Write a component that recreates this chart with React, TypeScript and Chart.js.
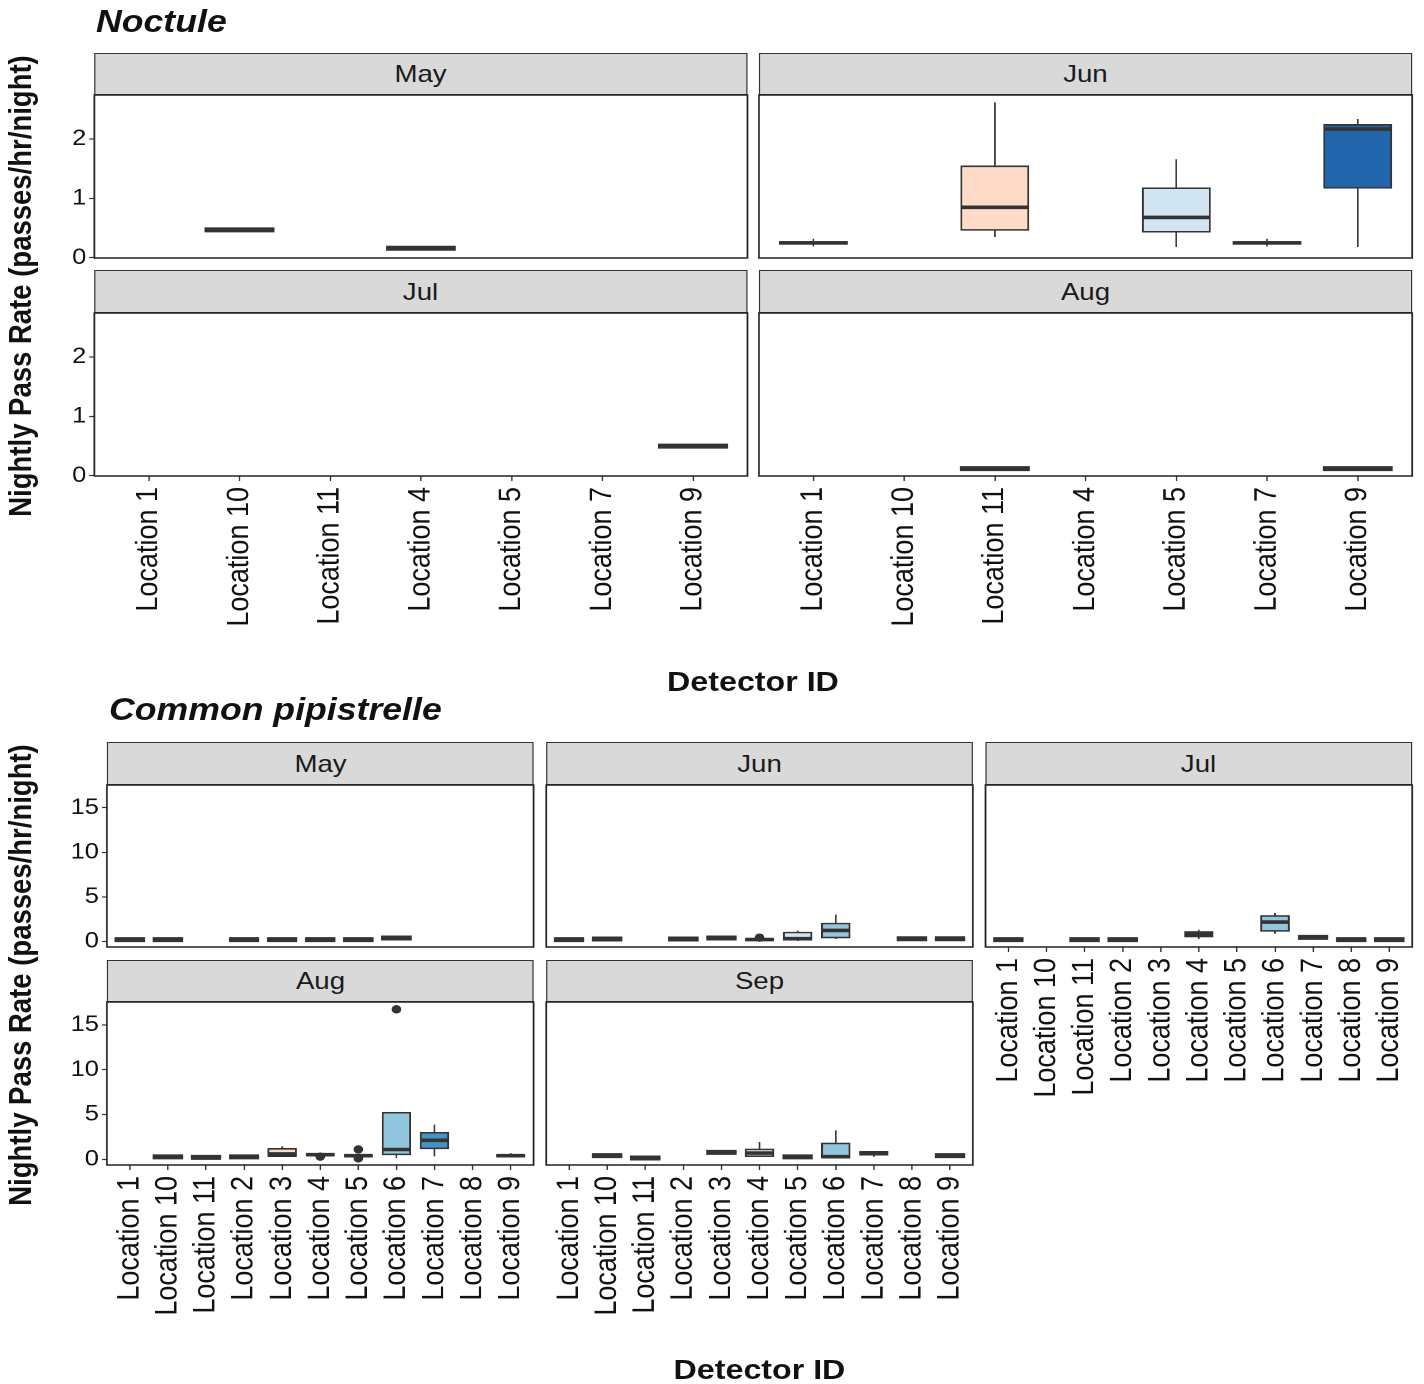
import { useEffect, useRef } from 'react';
import { Chart, registerables } from 'chart.js';

Chart.register(...registerables);

// [min, q1, median, q3, max]; null where a detector logged no nights that month
type Stats = [number, number, number, number, number];
type Box = Stats | null;

const FONT = "'Liberation Sans', Arial, Helvetica, sans-serif";
const INK = '#333333';
const TEXT = '#111111';

// ---------- Noctule ----------
const NOCTULE_SITES = ['Location 1', 'Location 10', 'Location 11', 'Location 4', 'Location 5', 'Location 7', 'Location 9'];
const NOCTULE_FILLS = ['#b2182b', '#ef8a62', '#fddbc7', '#f7f7f7', '#d1e5f0', '#67a9cf', '#2166ac'];
const NOCTULE_Y_TICKS = [0, 1, 2];
const NOCTULE_Y_RANGE = [-0.005, 2.745];

const noctuleMay: Box[] = [null, [0.47, 0.47, 0.47, 0.47, 0.47], null, [0.16, 0.16, 0.16, 0.16, 0.16], null, null, null];
const noctuleJun: Box[] = [
  [0.19, 0.225, 0.25, 0.275, 0.32],
  null,
  [0.35, 0.46, 0.85, 1.55, 2.62],
  null,
  [0.18, 0.43, 0.68, 1.18, 1.66],
  [0.19, 0.225, 0.25, 0.275, 0.32],
  [0.18, 1.17, 2.17, 2.25, 2.34],
];
const noctuleJul: Box[] = [null, null, null, null, null, null, [0.5, 0.5, 0.5, 0.5, 0.5]];
const noctuleAug: Box[] = [null, null, [0.12, 0.12, 0.12, 0.12, 0.12], null, null, null, [0.12, 0.12, 0.12, 0.12, 0.12]];

// ---------- Common pipistrelle ----------
const PIP_SITES = ['Location 1', 'Location 10', 'Location 11', 'Location 2', 'Location 3', 'Location 4', 'Location 5', 'Location 6', 'Location 7', 'Location 8', 'Location 9'];
const PIP_FILLS = ['#67001f', '#b2182b', '#d6604d', '#f4a582', '#fddbc7', '#f7f7f7', '#d1e5f0', '#92c5de', '#4393c3', '#2166ac', '#053061'];
const PIP_Y_TICKS = [0, 5, 10, 15];
const PIP_Y_RANGE = [-0.63, 17.55];

const pipMay: Box[] = [
  [0.2, 0.2, 0.2, 0.2, 0.2],
  [0.2, 0.2, 0.2, 0.2, 0.2],
  null,
  [0.2, 0.2, 0.2, 0.2, 0.2],
  [0.2, 0.2, 0.2, 0.2, 0.2],
  [0.2, 0.2, 0.2, 0.2, 0.2],
  [0.2, 0.2, 0.2, 0.2, 0.2],
  [0.38, 0.38, 0.38, 0.38, 0.38],
  null,
  null,
  null,
];
const pipJun: Box[] = [
  [0.2, 0.2, 0.2, 0.2, 0.2],
  [0.27, 0.27, 0.27, 0.27, 0.27],
  null,
  [0.27, 0.27, 0.27, 0.27, 0.27],
  [0.38, 0.38, 0.38, 0.38, 0.38],
  [0.15, 0.18, 0.2, 0.22, 0.27],
  [0.05, 0.12, 0.3, 1.05, 1.2],
  [0.27, 0.38, 1.23, 2.06, 3.0],
  null,
  [0.3, 0.3, 0.3, 0.3, 0.3],
  [0.3, 0.3, 0.3, 0.3, 0.3],
];
const pipJunOutliers: number[][] = [[], [], [], [], [], [0.42], [], [], [], [], []];
const pipJul: Box[] = [
  [0.2, 0.2, 0.2, 0.2, 0.2],
  null,
  [0.2, 0.2, 0.2, 0.2, 0.2],
  [0.2, 0.2, 0.2, 0.2, 0.2],
  null,
  [0.27, 0.49, 0.8, 1.12, 1.31],
  null,
  [0.86, 1.12, 2.17, 2.91, 3.18],
  [0.45, 0.45, 0.45, 0.45, 0.45],
  [0.2, 0.2, 0.2, 0.2, 0.2],
  [0.2, 0.2, 0.2, 0.2, 0.2],
];
const pipAug: Box[] = [
  null,
  [0.27, 0.27, 0.27, 0.27, 0.27],
  [0.22, 0.22, 0.22, 0.22, 0.22],
  [0.27, 0.27, 0.27, 0.27, 0.27],
  [0.27, 0.3, 0.6, 1.23, 1.45],
  [0.45, 0.48, 0.52, 0.56, 0.6],
  [0.3, 0.35, 0.41, 0.45, 0.5],
  [0.15, 0.5, 1.1, 5.25, 5.25],
  [0.33, 1.16, 2.12, 3.02, 3.88],
  null,
  [0.3, 0.35, 0.41, 0.48, 0.7],
];
const pipAugOutliers: number[][] = [[], [], [], [], [], [0.3], [1.1, 0.1], [16.73], [], [], []];
const pipSep: Box[] = [
  null,
  [0.41, 0.41, 0.41, 0.41, 0.41],
  [0.15, 0.15, 0.15, 0.15, 0.15],
  null,
  [0.78, 0.78, 0.78, 0.78, 0.78],
  [0.27, 0.3, 0.7, 1.16, 1.94],
  [0.27, 0.27, 0.27, 0.27, 0.27],
  [0.15, 0.15, 0.3, 1.83, 3.24],
  [0.27, 0.45, 0.65, 0.89, 0.89],
  null,
  [0.41, 0.41, 0.41, 0.41, 0.41],
];

// ---------- layout ----------
// the figure is drawn narrow and widened horizontally by S
const S = 1.15;
const ux = (x: number) => (x - 8) / S;
const uy = (y: number) => y - 8;

type PanelSpec = {
  label: string;
  sites: string[];
  fills: string[];
  boxes: Box[];
  outliers?: number[][];
  yRange: number[];
  yTicks: number[];
  x0: number;
  x1: number;
  stripTop: number;
  plotTop: number;
  plotBottom: number;
  showX: boolean;
  showY: boolean;
};

function FacetPanel(p: PanelSpec) {
  const ref = useRef<HTMLCanvasElement>(null);
  const plotW = (p.x1 - p.x0) / S;
  const plotH = p.plotBottom - p.plotTop;
  const axisL = p.showY ? 40 : 0;
  const axisB = p.showX ? 170 : 0;
  const pad = 2;
  const padB = p.showX ? 0 : 14;
  const cw = pad + axisL + plotW + pad;
  const ch = pad + plotH + axisB + padB;
  const left = ux(p.x0) - axisL - pad;
  const top = uy(p.plotTop) - pad;
  const n = p.sites.length;
  const unit = plotW / (n + 0.2);

  useEffect(() => {
    const canvas = ref.current;
    if (!canvas) return;
    const idx = p.boxes.map((b, i) => (b ? i : -1)).filter((i) => i >= 0);
    const points = idx.map((i) => ({ x: i, y: [p.boxes[i]![1], p.boxes[i]![3]] }));
    const colors = idx.map((i) => p.fills[i]);

    const whiskers = {
      id: 'whiskers',
      afterDatasetsDraw(chart: any) {
        const { ctx } = chart;
        const xs = chart.scales.x;
        const ys = chart.scales.y;
        const half = (xs.getPixelForValue(1) - xs.getPixelForValue(0)) * 0.375;
        ctx.save();
        ctx.strokeStyle = INK;
        ctx.lineCap = 'butt';
        p.boxes.forEach((b, i) => {
          if (!b) return;
          const [mn, q1, md, q3, mx] = b;
          const cx = xs.getPixelForValue(i);
          ctx.lineWidth = 1.4;
          ctx.beginPath();
          ctx.moveTo(cx, ys.getPixelForValue(q3));
          ctx.lineTo(cx, ys.getPixelForValue(mx));
          ctx.moveTo(cx, ys.getPixelForValue(q1));
          ctx.lineTo(cx, ys.getPixelForValue(mn));
          ctx.stroke();
          const flat = q3 - q1 < 1e-9;
          ctx.lineWidth = flat ? 5 : 3.6;
          const ext = flat ? half + 0.8 : half;
          const my = ys.getPixelForValue(md);
          ctx.beginPath();
          ctx.moveTo(cx - ext, my);
          ctx.lineTo(cx + ext, my);
          ctx.stroke();
        });
        if (p.outliers) {
          ctx.fillStyle = INK;
          p.outliers.forEach((vals, i) => {
            const cx = xs.getPixelForValue(i);
            vals.forEach((v) => {
              ctx.beginPath();
              ctx.arc(cx, ys.getPixelForValue(v), 4.2, 0, Math.PI * 2);
              ctx.fill();
            });
          });
        }
        ctx.restore();
      },
    };

    const frame = {
      id: 'frame',
      afterDraw(chart: any) {
        const { ctx, chartArea: a } = chart;
        ctx.save();
        ctx.strokeStyle = '#222';
        ctx.lineWidth = 1.5;
        ctx.strokeRect(a.left, a.top, a.right - a.left, a.bottom - a.top);
        ctx.restore();
      },
    };

    const chart = new Chart(canvas, {
      type: 'bar',
      data: {
        datasets: [
          {
            data: points as any,
            backgroundColor: colors,
            borderColor: INK,
            borderWidth: 1.6,
            borderSkipped: false,
            barThickness: unit * 0.75,
          },
        ],
      },
      options: {
        animation: false,
        responsive: false,
        devicePixelRatio: 2,
        layout: { padding: { left: pad, right: pad, top: pad, bottom: padB } },
        plugins: { legend: { display: false }, tooltip: { enabled: false } },
        scales: {
          x: {
            type: 'linear',
            display: p.showX,
            offset: false,
            min: -0.6,
            max: n - 1 + 0.6,
            grid: { display: true, offset: false, drawOnChartArea: false, drawTicks: true, tickLength: 5, tickColor: INK, tickWidth: 1.2 },
            border: { display: false },
            ticks: {
              autoSkip: false,
              minRotation: 90,
              maxRotation: 90,
              padding: 6,
              color: TEXT,
              font: { family: FONT, size: 27 },
              callback: (v: any) => p.sites[Math.round(Number(v))] ?? '',
            },
            afterBuildTicks: (s: any) => {
              s.ticks = p.sites.map((_, i) => ({ value: i }));
            },
            afterFit: (s: any) => {
              s.height = axisB;
              s.paddingLeft = 0;
              s.paddingRight = 0;
            },
          } as any,
          y: {
            type: 'linear',
            display: p.showY,
            min: p.yRange[0],
            max: p.yRange[1],
            grid: { display: true, drawOnChartArea: false, drawTicks: true, tickLength: 4.4, tickColor: INK, tickWidth: 1.2 },
            border: { display: false },
            ticks: { padding: 2.6, color: TEXT, font: { family: FONT, size: 22 } },
            afterBuildTicks: (s: any) => {
              s.ticks = p.yTicks.map((v) => ({ value: v }));
            },
            afterFit: (s: any) => {
              s.width = axisL;
              s.paddingTop = 0;
              s.paddingBottom = 0;
            },
          } as any,
        },
      },
      plugins: [whiskers, frame],
    });
    return () => chart.destroy();
  }, []);

  return (
    <>
      <div
        style={{
          position: 'absolute',
          left: ux(p.x0),
          top: uy(p.stripTop),
          width: plotW,
          height: p.plotTop - p.stripTop,
          boxSizing: 'border-box',
          background: '#d9d9d9',
          border: '1.4px solid #333',
          display: 'flex',
          alignItems: 'center',
          justifyContent: 'center',
          fontSize: 24,
          color: '#1a1a1a',
        }}
      >
        {p.label}
      </div>
      <canvas
        ref={ref}
        width={cw}
        height={ch}
        style={{ position: 'absolute', left, top, width: cw, height: ch }}
      />
    </>
  );
}

const NOC_A = [94, 747];
const NOC_B = [759, 1412];
const NOC_R1 = [53, 95, 258];
const NOC_R2 = [270, 313, 476];
const PIP_A = [107, 534];
const PIP_B = [546, 973];
const PIP_C = [985, 1412];
const PIP_R1 = [742, 785, 947];
const PIP_R2 = [960, 1002, 1165];

function spec(label: string, col: number[], row: number[], sites: string[], fills: string[], boxes: Box[], yRange: number[], yTicks: number[], showX: boolean, showY: boolean, outliers?: number[][]): PanelSpec {
  return { label, sites, fills, boxes, outliers, yRange, yTicks, x0: col[0], x1: col[1], stripTop: row[0], plotTop: row[1], plotBottom: row[2], showX, showY };
}

const PANELS: PanelSpec[] = [
  spec('May', NOC_A, NOC_R1, NOCTULE_SITES, NOCTULE_FILLS, noctuleMay, NOCTULE_Y_RANGE, NOCTULE_Y_TICKS, false, true),
  spec('Jun', NOC_B, NOC_R1, NOCTULE_SITES, NOCTULE_FILLS, noctuleJun, NOCTULE_Y_RANGE, NOCTULE_Y_TICKS, false, false),
  spec('Jul', NOC_A, NOC_R2, NOCTULE_SITES, NOCTULE_FILLS, noctuleJul, NOCTULE_Y_RANGE, NOCTULE_Y_TICKS, true, true),
  spec('Aug', NOC_B, NOC_R2, NOCTULE_SITES, NOCTULE_FILLS, noctuleAug, NOCTULE_Y_RANGE, NOCTULE_Y_TICKS, true, false),
  spec('May', PIP_A, PIP_R1, PIP_SITES, PIP_FILLS, pipMay, PIP_Y_RANGE, PIP_Y_TICKS, false, true),
  spec('Jun', PIP_B, PIP_R1, PIP_SITES, PIP_FILLS, pipJun, PIP_Y_RANGE, PIP_Y_TICKS, false, false, pipJunOutliers),
  spec('Jul', PIP_C, PIP_R1, PIP_SITES, PIP_FILLS, pipJul, PIP_Y_RANGE, PIP_Y_TICKS, true, false),
  spec('Aug', PIP_A, PIP_R2, PIP_SITES, PIP_FILLS, pipAug, PIP_Y_RANGE, PIP_Y_TICKS, true, true, pipAugOutliers),
  spec('Sep', PIP_B, PIP_R2, PIP_SITES, PIP_FILLS, pipSep, PIP_Y_RANGE, PIP_Y_TICKS, true, false),
];

const Y_TITLE = 'Nightly Pass Rate (passes/hr/night)';

function YTitle({ cy }: { cy: number }) {
  const w = 600;
  const h = 32;
  return (
    <div
      style={{
        position: 'absolute',
        left: ux(21) - w / 2,
        top: uy(cy) - h / 2,
        width: w,
        height: h,
        lineHeight: `${h}px`,
        textAlign: 'center',
        fontWeight: 'bold',
        fontSize: 27.5,
        whiteSpace: 'nowrap',
        transform: 'rotate(-90deg)',
      }}
    >
      {Y_TITLE}
    </div>
  );
}

function XTitle({ x0, x1, top }: { x0: number; x1: number; top: number }) {
  return (
    <div
      style={{
        position: 'absolute',
        left: ux(x0),
        width: (x1 - x0) / S,
        top: uy(top),
        lineHeight: '28px',
        fontSize: 28,
        fontWeight: 'bold',
        textAlign: 'center',
      }}
    >
      Detector ID
    </div>
  );
}

function SpeciesTitle({ text, x, top }: { text: string; x: number; top: number }) {
  return (
    <div
      style={{
        position: 'absolute',
        left: ux(x),
        top: uy(top),
        lineHeight: '31px',
        fontSize: 31,
        fontWeight: 'bold',
        fontStyle: 'italic',
        whiteSpace: 'nowrap',
      }}
    >
      {text}
    </div>
  );
}

export default function App() {
  return (
    <div
      style={{
        position: 'relative',
        width: 1408 / S,
        height: 1376,
        transform: `scaleX(${S})`,
        transformOrigin: '0 0',
        fontFamily: FONT,
        color: TEXT,
      }}
    >
      <SpeciesTitle text="Noctule" x={96} top={6} />
      <SpeciesTitle text="Common pipistrelle" x={109} top={694} />
      <YTitle cy={286} />
      <YTitle cy={975} />
      <XTitle x0={94} x1={1412} top={668} />
      <XTitle x0={107} x1={1412} top={1356} />
      {PANELS.map((p, i) => (
        <FacetPanel key={i} {...p} />
      ))}
    </div>
  );
}
